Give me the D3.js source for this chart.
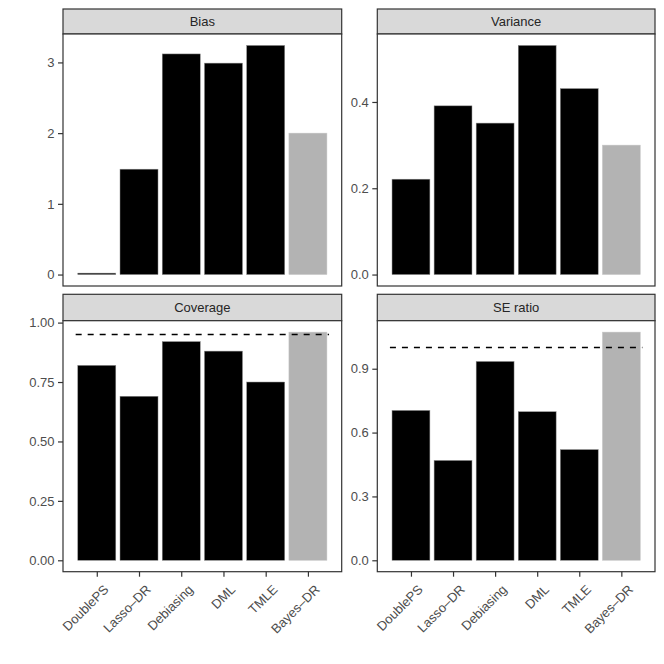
<!DOCTYPE html>
<html><head><meta charset="utf-8">
<script src="https://cdn.jsdelivr.net/npm/d3@7"></script>
<style>body{margin:0;background:#fff;} text{font-family:"Liberation Sans",Arial,Helvetica,sans-serif;font-weight:400;}</style>
</head><body>
<svg id="chart" width="664" height="664"></svg>
<script>
const methods = ["DoublePS","Lasso\u2013DR","Debiasing","DML","TMLE","Bayes\u2013DR"];
const bias = [0.02, 1.49, 3.12, 2.99, 3.24, 2.00];
const variance = [0.221, 0.391, 0.351, 0.531, 0.431, 0.300];
const coverage = [0.82, 0.69, 0.92, 0.88, 0.75, 0.96];
const seRatio = [0.704, 0.469, 0.934, 0.698, 0.52, 1.072];
const panelTitles = ["Bias","Variance","Coverage","SE ratio"];
const biasTicks = [0,1,2,3];
const varianceTicks = [0.0,0.2,0.4];
const coverageTicks = [0,0.25,0.5,0.75,1.0];
const seTicks = [0,0.3,0.6,0.9];
const coverageRef = 0.95;
const seRef = 1.0;

const panels = [
  {title: panelTitles[0], values: bias, ticks: biasTicks, fmt: d3.format("d"), ref: null, col: 0, row: 0},
  {title: panelTitles[1], values: variance, ticks: varianceTicks, fmt: d3.format(".1f"), ref: null, col: 1, row: 0},
  {title: panelTitles[2], values: coverage, ticks: coverageTicks, fmt: d3.format(".2f"), ref: coverageRef, col: 0, row: 1},
  {title: panelTitles[3], values: seRatio, ticks: seTicks, fmt: d3.format(".1f"), ref: seRef, col: 1, row: 1}
];

const svg = d3.select("#chart");
const colX = [[63, 341.7],[377.3, 655]];
const rowY = [{strip:9, top:34, bottom:286},{strip:294.3, top:320.7, bottom:571.7}];
const FS = 13;

panels.forEach(p => {
  const [x0, x1] = colX[p.col];
  const r = rowY[p.row];
  const x = d3.scaleLinear().domain([0.2, 6.8]).range([x0, x1]);
  const maxV = Math.max(d3.max(p.values), p.ref || 0);
  const span = maxV;
  const y = d3.scaleLinear().domain([-0.05*span, maxV + 0.05*span]).range([r.bottom, r.top]);
  const g = svg.append("g");

  // strip
  g.append("rect").attr("x", x0).attr("y", r.strip).attr("width", x1-x0).attr("height", r.top-r.strip)
    .attr("fill", "#d9d9d9").attr("stroke", "#333333").attr("stroke-width", 1.2);
  g.append("text").attr("x", (x0+x1)/2).attr("y", (r.strip+r.top)/2).attr("dy","0.36em")
    .attr("text-anchor","middle").attr("font-size", FS).attr("font-weight", 400).attr("fill","#262626").text(p.title);

  // panel background
  g.append("rect").attr("x", x0).attr("y", r.top).attr("width", x1-x0).attr("height", r.bottom-r.top)
    .attr("fill", "#fff");

  // bars
  g.selectAll("rect.bar").data(p.values).join("rect").attr("class","bar")
    .attr("x", (d,i) => x(i+1-0.45))
    .attr("width", (d,i) => x(i+1+0.45) - x(i+1-0.45))
    .attr("y", d => y(d))
    .attr("height", d => y(0) - y(d))
    .attr("fill", (d,i) => i === 5 ? "#b3b3b3" : "#000000")
    .attr("stroke", (d,i) => i === 5 ? "#c8c8c8" : "#8a8a8a")
    .attr("stroke-width", 0.5);

  // reference line
  if (p.ref !== null) {
    g.append("line").attr("x1", x(0.5)).attr("x2", x(6.5)).attr("y1", y(p.ref)).attr("y2", y(p.ref))
      .attr("stroke","#000").attr("stroke-width",1.6).attr("stroke-dasharray","6,6");
  }

  // border
  g.append("rect").attr("x", x0).attr("y", r.top).attr("width", x1-x0).attr("height", r.bottom-r.top)
    .attr("fill", "none").attr("stroke", "#333333").attr("stroke-width", 1.2);

  // y axis
  const ya = g.append("g").attr("transform", `translate(${x0},0)`)
    .call(d3.axisLeft(y).tickValues(p.ticks).tickFormat(p.fmt).tickSize(5).tickPadding(3.5));
  ya.select(".domain").remove();
  ya.selectAll("line").attr("stroke","#333333").attr("stroke-width",1.2);
  ya.selectAll("text").attr("fill","#4d4d4d").attr("font-size",FS)
    .style("font-family",'"Liberation Sans",Arial,sans-serif');

  // x axis only on bottom row
  if (p.row === 1) {
    const xa = g.append("g").attr("transform", `translate(0,${r.bottom})`)
      .call(d3.axisBottom(x).tickValues([1,2,3,4,5,6]).tickFormat(d => methods[d-1]).tickSize(5).tickPadding(0));
    xa.select(".domain").remove();
    xa.selectAll("line").attr("stroke","#333333").attr("stroke-width",1.2);
    xa.selectAll("text").attr("fill","#4d4d4d").attr("font-size",FS)
      .style("font-family",'"Liberation Sans",Arial,sans-serif')
      .attr("text-anchor","end").attr("x", 0).attr("y", 0).attr("dy","0.72em")
      .attr("transform","translate(5.5,12) rotate(-45)");
  }
});
</script>
</body></html>
